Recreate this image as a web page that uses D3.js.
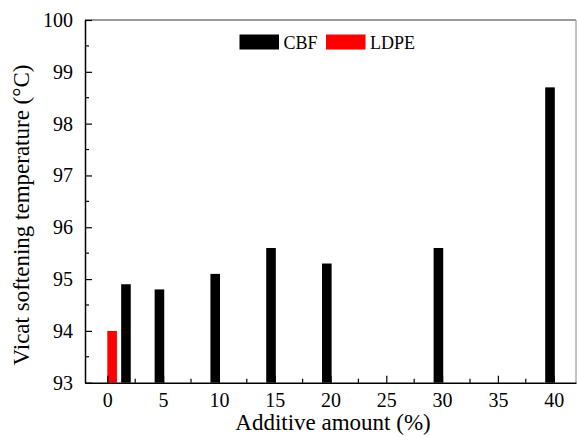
<!DOCTYPE html>
<html>
<head>
<meta charset="utf-8">
<script src="https://cdn.jsdelivr.net/npm/d3@7/dist/d3.min.js"></script>
<style>
  html, body { margin: 0; padding: 0; background: #fff; }
  svg { display: block; }
  svg text { font-family: 'Liberation Serif', 'Times New Roman', Times, 'DejaVu Serif', serif !important; fill: #000; }
</style>
</head>
<body>
<svg id="chart" width="577" height="437"></svg>
<script>
// ---- data ----
const cbfAmounts = [2, 5, 10, 15, 20, 30, 40];
const cbfValues  = [94.9, 94.8, 95.1, 95.6, 95.3, 95.6, 98.7];
const ldpeAmounts = [0];
const ldpeValues  = [94.0];
const xTickValues = [0, 5, 10, 15, 20, 25, 30, 35, 40];
const yTickValues = [93, 94, 95, 96, 97, 98, 99, 100];
const seriesNames = ["CBF", "LDPE"];
const seriesColors = ["#000000", "#ff0000"];

// ---- layout ----
const FONT = "'Liberation Serif', 'Times New Roman', Times, 'DejaVu Serif', serif";
const svg = d3.select("#chart");
const L = 85, R = 576, T = 20, B = 382.7;

const x = d3.scaleLinear().domain([-2, 42]).range([L, R]);
const y = d3.scaleLinear().domain([93, 100]).range([B, T]);

const barW = x(0.86) - x(0);
const offsets = [-0.33, 0.43];

// bars
const series = [
  {name: seriesNames[0], color: seriesColors[0], xs: cbfAmounts, vs: cbfValues, off: offsets[0]},
  {name: seriesNames[1], color: seriesColors[1], xs: ldpeAmounts, vs: ldpeValues, off: offsets[1]}
];
series.forEach(s => {
  svg.append("g").selectAll("rect")
    .data(s.xs.map((d, i) => ({a: d, v: s.vs[i]})))
    .join("rect")
    .attr("x", d => x(d.a + s.off) - barW / 2)
    .attr("width", barW)
    .attr("y", d => y(d.v))
    .attr("height", d => y(93) - y(d.v))
    .attr("fill", s.color);
});

// frame (top / right)
svg.append("line").attr("x1", L).attr("x2", R).attr("y1", T).attr("y2", T)
  .attr("stroke", "#777").attr("stroke-width", 1.5);
svg.append("line").attr("x1", R).attr("x2", R).attr("y1", T).attr("y2", B)
  .attr("stroke", "#999").attr("stroke-width", 1.2);

// x axis
const xAxis = d3.axisBottom(x).tickValues(xTickValues).tickFormat(d3.format("d"))
  .tickSize(-7).tickPadding(15).tickSizeOuter(0);
const gx = svg.append("g").attr("transform", `translate(0,${B})`).call(xAxis)
  .attr("font-family", FONT).attr("font-size", 20);
gx.selectAll(".tick text").style("font-family", FONT).attr("font-size", 20).attr("dy", "0.45em");
gx.select(".domain").attr("stroke", "#000").attr("stroke-width", 1.5);
gx.selectAll(".tick line").attr("stroke-width", 1.2);
// minor x ticks
const xMinor = xTickValues.map(v => v + 2.5).filter(v => v > -2 && v < 42);
svg.append("g").selectAll("line").data(xMinor).join("line")
  .attr("x1", d => x(d)).attr("x2", d => x(d)).attr("y1", B).attr("y2", B - 4)
  .attr("stroke", "#000").attr("stroke-width", 1.2);

// y axis
const yAxis = d3.axisLeft(y).tickValues(yTickValues).tickFormat(d3.format("d"))
  .tickSize(-7).tickPadding(12).tickSizeOuter(0);
const gy = svg.append("g").attr("transform", `translate(${L},0)`).call(yAxis)
  .attr("font-family", FONT).attr("font-size", 20);
gy.selectAll(".tick text").style("font-family", FONT).attr("font-size", 20);
gy.select(".domain").attr("stroke", "#000").attr("stroke-width", 1.5);
gy.selectAll(".tick line").attr("stroke-width", 1.2);
const yMinor = yTickValues.slice(0, -1).map(v => v + 0.5);
svg.append("g").selectAll("line").data(yMinor).join("line")
  .attr("x1", L).attr("x2", L + 4).attr("y1", d => y(d)).attr("y2", d => y(d))
  .attr("stroke", "#000").attr("stroke-width", 1.2);

// axis titles
svg.append("text").attr("x", 333).attr("y", 430)
  .attr("text-anchor", "middle").attr("font-size", 23).style("font-family", FONT)
  .text("Additive amount (%)");
svg.append("text").attr("transform", `translate(29,215) rotate(-90)`)
  .attr("text-anchor", "middle").attr("font-size", 23).style("font-family", FONT)
  .text("Vicat softening temperature (°C)");

// legend
const legend = svg.append("g");
const legX = [239.5, 326];
series.forEach((s, i) => {
  legend.append("rect").attr("x", legX[i]).attr("y", 34.5).attr("width", 39.5).attr("height", 15)
    .attr("fill", s.color);
  legend.append("text").attr("x", legX[i] + 44).attr("y", 48.5)
    .attr("font-size", 18).style("font-family", FONT).text(s.name);
});
</script>
</body>
</html>
